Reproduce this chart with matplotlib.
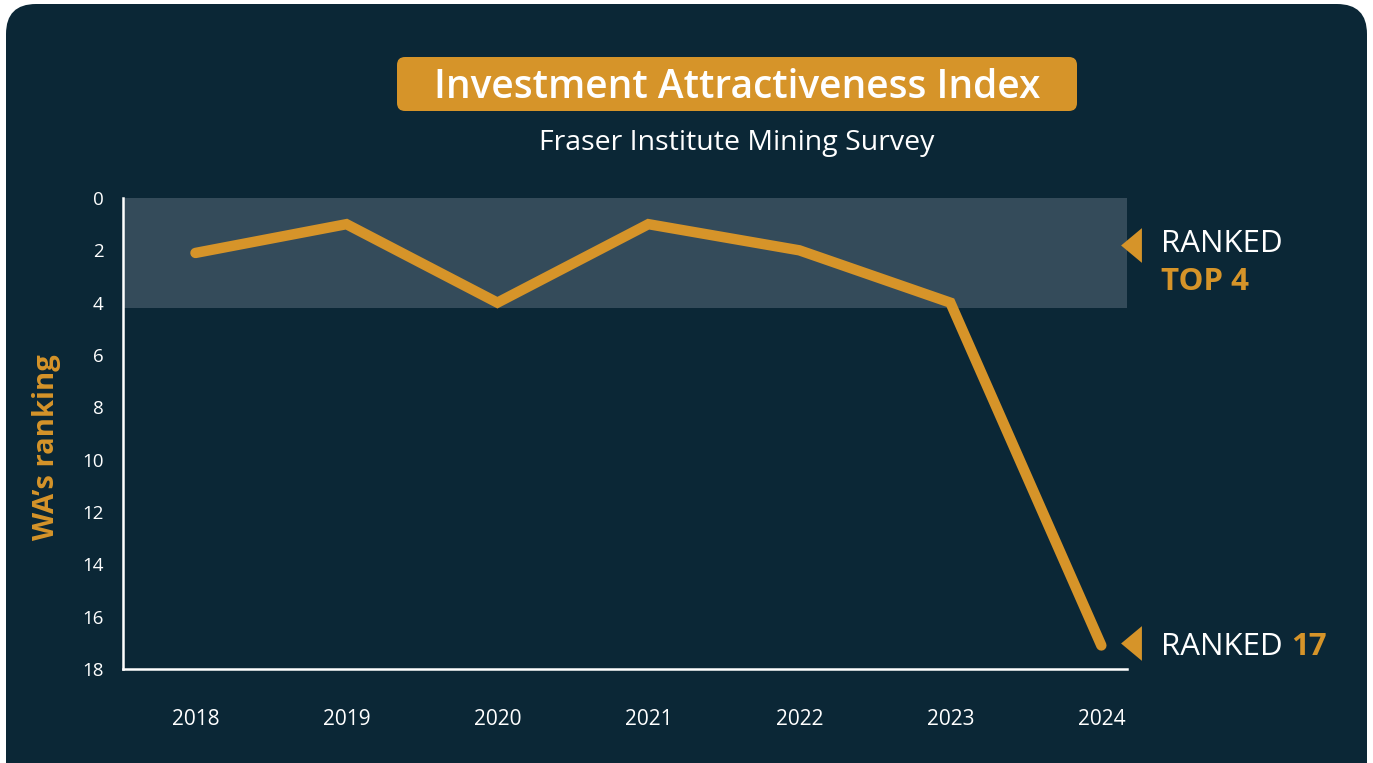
import matplotlib
matplotlib.use("Agg")
import matplotlib.pyplot as plt
from matplotlib.patches import FancyBboxPatch
from matplotlib.transforms import IdentityTransform, blended_transform_factory

# data
years = [2018, 2019, 2020, 2021, 2022, 2023, 2024]
ranking = [2.1, 1, 4, 1, 2, 4, 17.1]
y_ticks = [0, 2, 4, 6, 8, 10, 12, 14, 16, 18]
top_band = (0, 4.2)

title = "Investment Attractiveness Index"
subtitle = "Fraser Institute Mining Survey"

navy = "#0b2736"
band = "#344b5a"
orange = "#d69429"
font = "Open Sans"

plt.rcParams['font.family'] = [font, 'DejaVu Sans']

W, H = 1373, 763
fig = plt.figure(figsize=(W / 100, H / 100), dpi=100, facecolor="white")

# dark card with rounded corners (pixel coords)
card = FancyBboxPatch((6, -30), 1361, H - 4 + 30,
                      boxstyle="round,pad=0,rounding_size=30",
                      transform=IdentityTransform(), fc=navy, ec="none",
                      zorder=-5)
fig.patches.append(card)

# title pill
pill = FancyBboxPatch((397, H - 111), 680, 54,
                      boxstyle="round,pad=0,rounding_size=8",
                      transform=IdentityTransform(), fc=orange, ec="none",
                      zorder=-4)
fig.patches.append(pill)
fig.text(737 / W, 1 - 88 / H, title, color="white", fontsize=28,
         fontweight="semibold", ha="center", va="center")
fig.text(737 / W, 1 - 143 / H, subtitle, color="white", fontsize=20.5,
         ha="center", va="center")

ax = fig.add_axes([123 / W, 1 - 669 / H, 1004 / W, 471 / H])
ax.set_facecolor("none")
ax.axhspan(*top_band, color=band, lw=0, zorder=0)
ax.plot(years, ranking, color=orange, lw=7.5, solid_capstyle="round",
        solid_joinstyle="miter", zorder=3)

ax.set_ylim(18, 0)
ax.set_xlim(2017.52, 2024.17)
ax.set_yticks(y_ticks)
ax.set_xticks(years)
ax.tick_params(axis="both", length=0, colors="white")
ax.tick_params(axis="x", pad=29, labelsize=15)
ax.tick_params(axis="y", pad=14, labelsize=13.5)
for s in ["top", "right"]:
    ax.spines[s].set_visible(False)
for s in ["left", "bottom"]:
    ax.spines[s].set_color("white")
    ax.spines[s].set_linewidth(1.8)

ax.set_ylabel("WA\u2019s ranking", color=orange, fontsize=21,
              fontweight="bold")
ax.yaxis.set_label_coords(-0.062, 0.471)

# right-side annotations
tri = [(-0.6, 0), (0.6, 1), (0.6, -1), (-0.6, 0)]
tr = blended_transform_factory(ax.transAxes, ax.transData)
ax.plot([1.004], [1.8], marker=tri, ms=25, color=orange, mew=0,
        transform=tr, clip_on=False)
ax.plot([1.004], [17.0], marker=tri, ms=25, color=orange, mew=0,
        transform=tr, clip_on=False)
ax.text(1.034, 1.75, "RANKED", color="white", fontsize=22.5, transform=tr,
        va="center", ha="left")
ax.text(1.034, 3.2, "TOP 4", color=orange, fontsize=22.5, fontweight="bold",
        transform=tr, va="center", ha="left")
t = ax.text(1.034, 17.15, "RANKED ", color="white", fontsize=22.5,
            transform=tr, va="center", ha="left")
ax.annotate("17", xycoords=t, xy=(1, 0.5), va="center", ha="left",
            color=orange, fontsize=22.5, fontweight="bold")

fig.savefig("out.png", dpi=100, facecolor="white")
